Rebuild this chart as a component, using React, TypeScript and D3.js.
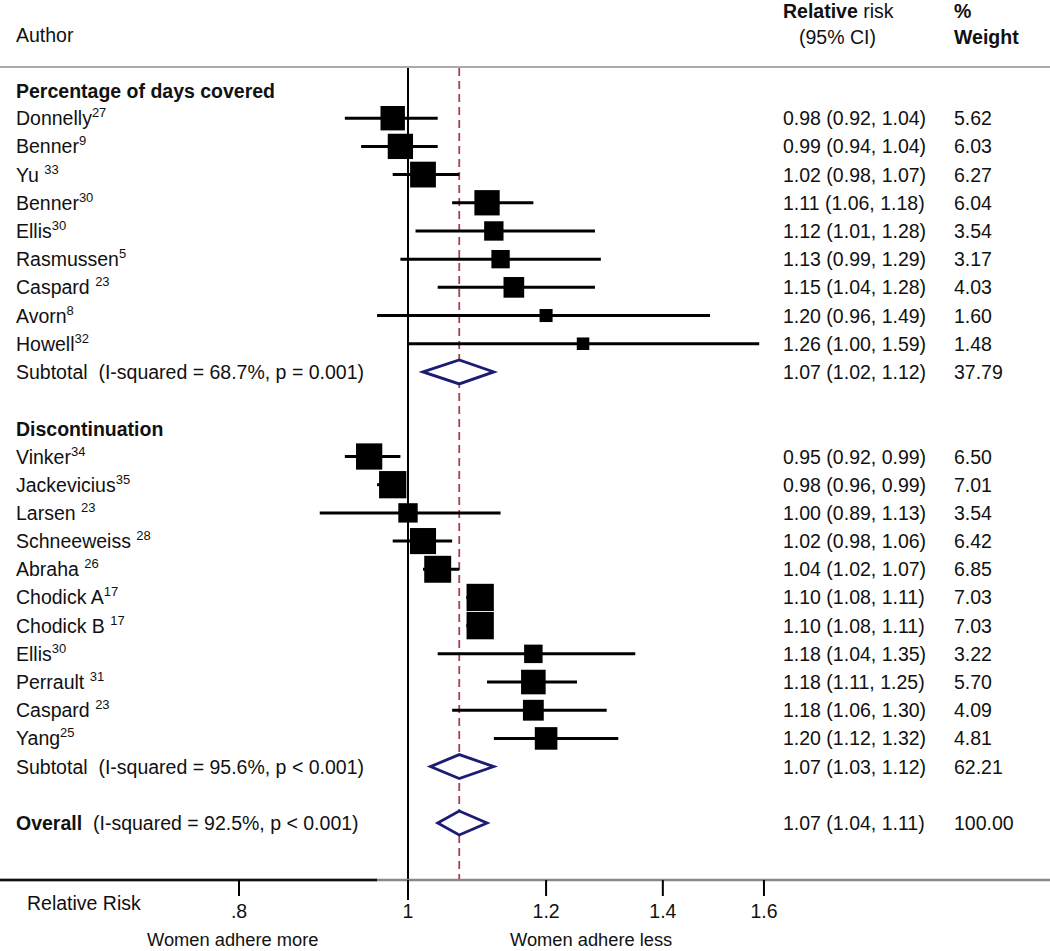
import React from 'react';
import * as d3 from 'd3';

// Percentage of days covered
const pdcAuthors = ['Donnelly', 'Benner', 'Yu ', 'Benner', 'Ellis', 'Rasmussen', 'Caspard ', 'Avorn', 'Howell'];
const pdcRefs = ['27', '9', '33', '30', '30', '5', '23', '8', '32'];
const pdcRR = [0.98, 0.99, 1.02, 1.11, 1.12, 1.13, 1.15, 1.2, 1.26];
const pdcLo = [0.92, 0.94, 0.98, 1.06, 1.01, 0.99, 1.04, 0.96, 1.0];
const pdcHi = [1.04, 1.04, 1.07, 1.18, 1.28, 1.29, 1.28, 1.49, 1.59];
const pdcWeight = [5.62, 6.03, 6.27, 6.04, 3.54, 3.17, 4.03, 1.6, 1.48];

// Discontinuation
const discAuthors = ['Vinker', 'Jackevicius', 'Larsen ', 'Schneeweiss ', 'Abraha ', 'Chodick A', 'Chodick B ', 'Ellis', 'Perrault ', 'Caspard ', 'Yang'];
const discRefs = ['34', '35', '23', '28', '26', '17', '17', '30', '31', '23', '25'];
const discRR = [0.95, 0.98, 1.0, 1.02, 1.04, 1.1, 1.1, 1.18, 1.18, 1.18, 1.2];
const discLo = [0.92, 0.96, 0.89, 0.98, 1.02, 1.08, 1.08, 1.04, 1.11, 1.06, 1.12];
const discHi = [0.99, 0.99, 1.13, 1.06, 1.07, 1.11, 1.11, 1.35, 1.25, 1.3, 1.32];
const discWeight = [6.5, 7.01, 3.54, 6.42, 6.85, 7.03, 7.03, 3.22, 5.7, 4.09, 4.81];

// pooled estimates: [pdc subtotal, disc subtotal, overall]
const pooledLabels = ['Subtotal  (I-squared = 68.7%, p = 0.001)', 'Subtotal  (I-squared = 95.6%, p < 0.001)', '  (I-squared = 92.5%, p < 0.001)'];
const pooledRR = [1.07, 1.07, 1.07];
const pooledLo = [1.02, 1.03, 1.04];
const pooledHi = [1.12, 1.12, 1.11];
const pooledWeight = [37.79, 62.21, 100.0];

const tickValues = [0.8, 1, 1.2, 1.4, 1.6];
const tickLabels = ['.8', '1', '1.2', '1.4', '1.6'];

const Width = 1050;
const Height = 951;
const font = '"Liberation Sans", Arial, sans-serif';
const fs = 19.5;

const App = () => {
  const xScale = d3.scaleLog().domain([0.8, 1]).range([239, 408]);
  const yScale = d3.scaleLinear().domain([0, 26]).range([90, 823]);
  const sizeScale = d3.scaleSqrt().domain([0, 7.03]).range([0, 27.3]);
  const f2 = d3.format('.2f');

  const studies = [
    ...pdcAuthors.map((a, i) => ({ name: a, ref: pdcRefs[i], rr: pdcRR[i], lo: pdcLo[i], hi: pdcHi[i], w: pdcWeight[i], row: 1 + i })),
    ...discAuthors.map((a, i) => ({ name: a, ref: discRefs[i], rr: discRR[i], lo: discLo[i], hi: discHi[i], w: discWeight[i], row: 13 + i })),
  ];
  const pooledRows = [10, 24, 26];

  const yTop = 68;
  const yAxis = 880;

  return (
    <svg width={Width} height={Height} style={{ position: 'absolute', left: 0, top: 0, display: 'block', background: '#fff' }} fontFamily={font}>
      {/* header */}
      <text x={16} y={42} fontSize={fs} fill="#111">Author</text>
      <text x={783} y={18} fontSize={fs} fill="#111">
        <tspan fontWeight="bold">Relative</tspan> risk
      </text>
      <text x={799} y={44} fontSize={fs} fill="#111">(95% CI)</text>
      <text x={954} y={18} fontSize={fs} fontWeight="bold" fill="#111">%</text>
      <text x={954} y={44} fontSize={fs} fontWeight="bold" fill="#111">Weight</text>
      <line x1={0} x2={Width} y1={67} y2={67} stroke="#aaa" strokeWidth={2} />

      {/* reference lines */}
      <line x1={xScale(1)} x2={xScale(1)} y1={yTop} y2={yAxis + 20} stroke="#000" strokeWidth={2} />
      <line x1={xScale(pooledRR[2])} x2={xScale(pooledRR[2])} y1={yTop} y2={yAxis} stroke="#a8404f" strokeWidth={1.8} strokeDasharray="8,5" />

      {/* group headers */}
      <text x={16} y={yScale(0) + 8} fontSize={fs} fontWeight="bold" fill="#111">Percentage of days covered</text>
      <text x={16} y={yScale(12) + 8} fontSize={fs} fontWeight="bold" fill="#111">Discontinuation</text>

      {studies.map((d, i) => {
        const y = yScale(d.row);
        const s = sizeScale(d.w);
        return (
          <g key={i}>
            <line x1={xScale(d.lo)} x2={xScale(d.hi)} y1={y} y2={y} stroke="#000" strokeWidth={3} />
            <rect x={xScale(d.rr) - s / 2} y={y - s / 2} width={s} height={s} fill="#000" />
            <text x={16} y={y + 7} fontSize={fs} fill="#111">
              {d.name}
              <tspan fontSize={13} dy={-8}>{d.ref}</tspan>
            </text>
            <text x={783} y={y + 7} fontSize={fs} fill="#111">{`${f2(d.rr)} (${f2(d.lo)}, ${f2(d.hi)})`}</text>
            <text x={954} y={y + 7} fontSize={fs} fill="#111">{f2(d.w)}</text>
          </g>
        );
      })}

      {pooledRows.map((row, i) => {
        const y = yScale(row);
        const h = 12;
        const pts = [
          [xScale(pooledLo[i]), y],
          [xScale(pooledRR[i]), y - h],
          [xScale(pooledHi[i]), y],
          [xScale(pooledRR[i]), y + h],
        ];
        return (
          <g key={`p${i}`}>
            <path d={d3.line()(pts as [number, number][]) + 'Z'} fill="#fff" stroke="#1c1c74" strokeWidth={2.8} strokeLinejoin="miter" />
            <text x={16} y={y + 7} fontSize={fs} fill="#111" style={{ whiteSpace: 'pre' }}>
              {i === 2 ? <tspan fontWeight="bold">Overall</tspan> : null}
              {pooledLabels[i]}
            </text>
            <text x={783} y={y + 7} fontSize={fs} fill="#111">{`${f2(pooledRR[i])} (${f2(pooledLo[i])}, ${f2(pooledHi[i])})`}</text>
            <text x={954} y={y + 7} fontSize={fs} fill="#111">{f2(pooledWeight[i])}</text>
          </g>
        );
      })}

      {/* x axis */}
      <line x1={0} x2={Width} y1={yAxis} y2={yAxis} stroke="#888" strokeWidth={2.5} />
      <line x1={0} x2={377} y1={yAxis} y2={yAxis} stroke="#111" strokeWidth={2.5} />
      {tickValues.map((t, i) => (
        <g key={`t${i}`} transform={`translate(${xScale(t)}, 0)`}>
          <line y1={yAxis} y2={yAxis + 16} stroke="#000" strokeWidth={2} />
          <text x={0} y={yAxis + 38} textAnchor="middle" fontSize={fs} fill="#111">{tickLabels[i]}</text>
        </g>
      ))}
      <text x={27} y={yAxis + 30} fontSize={fs} fill="#111">Relative Risk</text>
      <text x={147} y={yAxis + 66} fontSize={18.3} fill="#111">Women adhere more</text>
      <text x={510} y={yAxis + 66} fontSize={18.3} fill="#111">Women adhere less</text>
    </svg>
  );
};

export default App;
